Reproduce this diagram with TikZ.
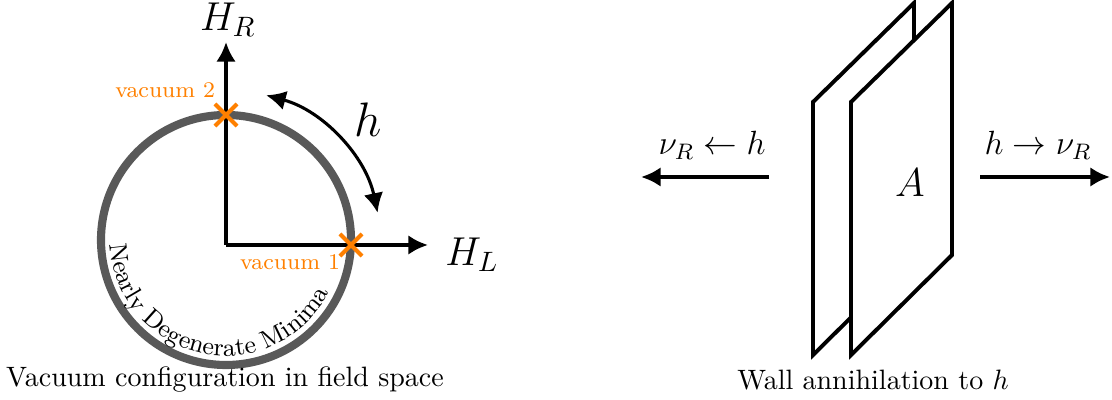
\documentclass[tikz,border=0pt]{standalone}
\usepackage{amsmath,amssymb}
\usepackage{tikz}
\usetikzlibrary{arrows.meta,positioning,shapes.misc,decorations.text}

\begin{document}
\begin{tikzpicture}[
    x=0.357pt,y=0.357pt,
    axis/.style={line width=1.4pt,-{Latex[length=7pt,width=7pt]}},
    harrow/.style={line width=1.1pt,{Latex[length=7pt,width=7pt]}-{Latex[length=7pt,width=7pt]}},
    plate/.style={draw,line width=1.4pt,fill=white,line join=miter},
    vac/.style={draw=orange,line width=1.4pt,cross out,minimum size=6.5pt,inner sep=0pt},
    vaclbl/.style={text=orange,font=\footnotesize},
    captxt/.style={font=\normalsize}
  ]
  \useasboundingbox (0,0) rectangle (1112,400);

  % field space
  \coordinate (C) at (226,160);
  \coordinate (O) at (226,155);
  \coordinate (hr) at (226,358);
  \coordinate (hl) at (428,155);
  \draw[line width=2.9pt,black!65] (C) circle[radius=125];
  \path[decorate,decoration={text along path,text align=left,
      text={|\small|Nearly Degenerate Minima}}]
    ([shift={(182:116)}]C) arc[start angle=182,end angle=335,radius=116];
  \draw[axis] (O) -- (hr);
  \draw[axis] (O) -- (hl);
  \node[font=\Large] (HR) at (228,380) {$H_R$};
  \node[font=\Large] (HL) at (472,145) {$H_L$};

  \node[vac] (v2) at (226,285) {};
  \node[vac] (v1) at (351,155) {};
  \node[vaclbl,anchor=east] (v2l) at (225,310) {vacuum 2};
  \node[vaclbl] (v1l) at (290,138) {vacuum 1};

  \draw[harrow] ([shift={(75:155)}]O) arc[start angle=75,end angle=12,radius=155];
  \node[font=\LARGE] (h) at (368,280) {$h$};

  \node[captxt] (cap1) at (225,20) {Vacuum configuration in field space};

  % walls
  \draw[plate] (813,45) -- (813,298) -- (914,397) -- (914,145) -- cycle;
  \draw[plate] (851,45) -- (851,298) -- (952,397) -- (952,145) -- cycle;
  \node[font=\Large] (A) at (910,217) {$A$};

  \coordinate (ls) at (769,223);
  \coordinate (le) at (641,223);
  \coordinate (rs) at (980,223);
  \coordinate (re) at (1110,223);
  \draw[axis] (ls) -- (le);
  \draw[axis] (rs) -- (re);
  \node[font=\large] (lnu) at (712,255) {$\nu_R \leftarrow h$};
  \node[font=\large] (rnu) at (1038,255) {$h \rightarrow \nu_R$};

  \node[captxt] (cap2) at (873,20) {Wall annihilation to $h$};
\end{tikzpicture}
\end{document}
